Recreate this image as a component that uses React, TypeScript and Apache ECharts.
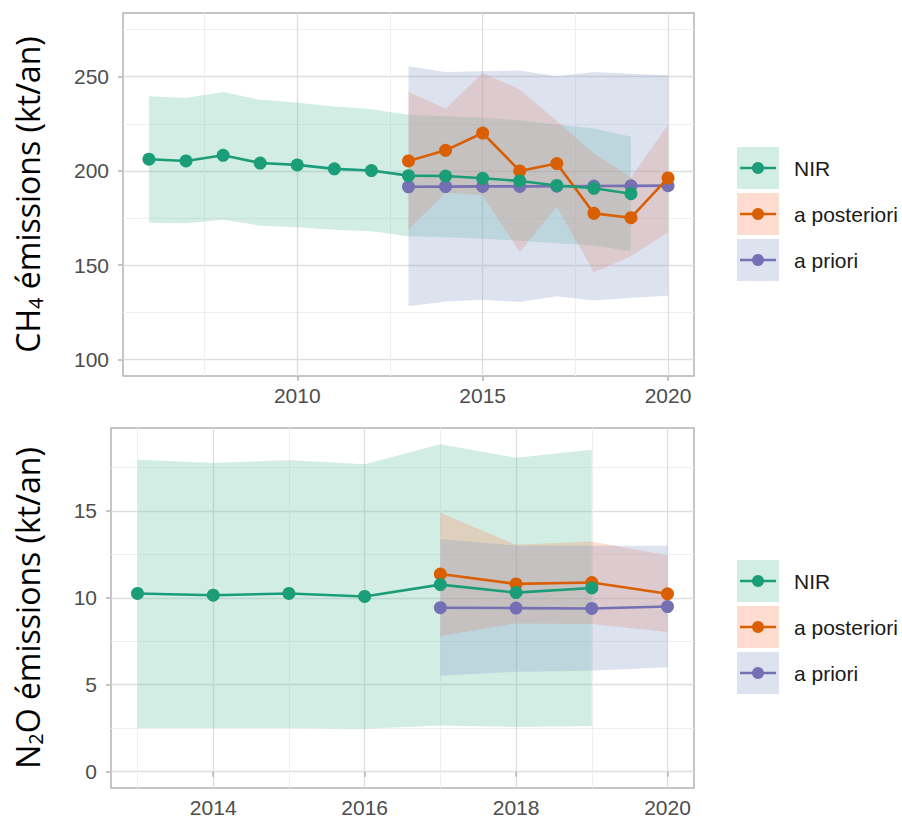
import React, { useEffect, useRef } from "react";
import * as echarts from "echarts";

// ---------- data ----------
const seriesNames = ["NIR", "a posteriori", "a priori"];
const lineColors = ["#1B9E77", "#D95F02", "#7570B3"];
const bandColors = ["#66C2A5", "#FC8D62", "#8DA0CB"];

// CH4
const ch4NirYears = [2006, 2007, 2008, 2009, 2010, 2011, 2012, 2013, 2014, 2015, 2016, 2017, 2018, 2019];
const ch4NirValue = [206.2, 205.3, 208.3, 204.2, 203.2, 201.1, 200.2, 197.5, 197.3, 196.1, 194.7, 192.3, 190.8, 187.9];
const ch4NirHigh = [239.6, 238.7, 241.9, 237.7, 236.2, 234.2, 232.7, 229.8, 229.0, 228.2, 226.9, 224.6, 222.5, 218.1];
const ch4NirLow = [172.5, 172.2, 174.1, 171.0, 170.1, 168.8, 168.0, 165.3, 164.8, 164.1, 163.0, 161.6, 160.4, 157.4];

const ch4InvYears = [2013, 2014, 2015, 2016, 2017, 2018, 2019, 2020];
const ch4PostValue = [205.3, 210.9, 220.1, 200.0, 203.9, 177.5, 175.2, 196.3];
const ch4PostHigh = [241.9, 233.1, 251.8, 243.3, 226.4, 209.2, 196.5, 224.5];
const ch4PostLow = [169.0, 188.6, 187.1, 156.9, 181.2, 146.3, 154.8, 167.4];
const ch4PriorValue = [191.6, 191.7, 191.8, 191.8, 191.9, 192.0, 192.1, 192.2];
const ch4PriorHigh = [255.5, 252.5, 252.8, 253.2, 250.2, 252.5, 251.6, 250.7];
const ch4PriorLow = [128.2, 130.8, 131.7, 130.5, 133.6, 131.3, 132.7, 133.8];

// N2O
const n2oNirYears = [2013, 2014, 2015, 2016, 2017, 2018, 2019];
const n2oNirValue = [10.25, 10.15, 10.25, 10.08, 10.76, 10.3, 10.57];
const n2oNirHigh = [17.95, 17.76, 17.91, 17.68, 18.83, 18.06, 18.52];
const n2oNirLow = [2.51, 2.51, 2.51, 2.47, 2.66, 2.57, 2.62];

const n2oInvYears = [2017, 2018, 2019, 2020];
const n2oPostValue = [11.37, 10.8, 10.88, 10.23];
const n2oPostHigh = [14.9, 13.05, 13.24, 12.44];
const n2oPostLow = [7.81, 8.53, 8.49, 8.04];
const n2oPriorValue = [9.43, 9.41, 9.39, 9.5];
const n2oPriorHigh = [13.37, 13.01, 12.99, 12.99];
const n2oPriorLow = [5.52, 5.75, 5.81, 6.0];

// axes
const ch4YTicks = [100, 150, 200, 250];
const ch4XTicks = [2010, 2015, 2020];
const n2oYTicks = [0, 5, 10, 15];
const n2oXTicks = [2014, 2016, 2018, 2020];

const tickFont = "'Liberation Sans', Arial, Helvetica, sans-serif";
const titleFont = "'Open Sans', 'Noto Sans', sans-serif";

function zip3(xs: number[], a: number[], b: number[]) {
  return xs.map((x, i) => [x, a[i], b[i]]);
}
function zip2(xs: number[], a: number[]) {
  return xs.map((x, i) => [x, a[i]]);
}

function bandSeries(idx: number, gridIdx: number, xs: number[], lo: number[], hi: number[], z: number) {
  const rows = zip3(xs, lo, hi);
  return {
    type: "custom",
    xAxisIndex: gridIdx,
    yAxisIndex: gridIdx,
    data: rows,
    encode: { x: 0, y: [1, 2] },
    silent: true,
    z,
    renderItem: (params: any, api: any) => {
      if (params.dataIndex !== 0) return null;
      const top = rows.map((r) => api.coord([r[0], r[2]]));
      const bottom = rows.map((r) => api.coord([r[0], r[1]])).reverse();
      return {
        type: "polygon",
        shape: { points: top.concat(bottom) },
        style: { fill: bandColors[idx], opacity: 0.3 },
      };
    },
  };
}

function lineSeries(idx: number, gridIdx: number, xs: number[], v: number[], z: number) {
  return {
    type: "line",
    name: seriesNames[idx],
    xAxisIndex: gridIdx,
    yAxisIndex: gridIdx,
    data: zip2(xs, v),
    symbol: "circle",
    symbolSize: 13,
    showSymbol: true,
    z,
    lineStyle: { color: lineColors[idx], width: 2.6 },
    itemStyle: { color: lineColors[idx] },
    silent: true,
  };
}

function xAxis(gridIndex: number, min: number, max: number, splitNumber: number, ticks: number[]) {
  return {
    type: "value",
    gridIndex,
    min,
    max,
    splitNumber,
    axisLine: { show: false },
    axisTick: { show: true, length: 5, customValues: ticks, lineStyle: { color: "#B3B3B3", width: 1.5 } },
    axisLabel: {
      customValues: ticks,
      color: "#4D4D4D",
      fontSize: 21,
      fontFamily: tickFont,
      margin: 9,
      formatter: (v: number) => String(v),
    },
    splitLine: { show: true, lineStyle: { color: "#DEDEDE", width: 1.3 } },
    minorTick: { show: false, splitNumber: 2 },
    minorSplitLine: { show: true, lineStyle: { color: "#EFEFEF", width: 1 } },
  };
}

function yAxis(gridIndex: number, min: number, max: number, splitNumber: number, ticks: number[], name: string, nameGap: number) {
  return {
    type: "value",
    gridIndex,
    min,
    max,
    splitNumber,
    name,
    nameLocation: "middle",
    nameGap,
    nameRotate: 90,
    nameTextStyle: {
      fontFamily: titleFont,
      fontSize: 32,
      color: "#000000",
      rich: {
        n: { fontFamily: titleFont, fontSize: 32, lineHeight: 32, verticalAlign: "top", color: "#000000" },
        s: { fontFamily: titleFont, fontSize: 20, lineHeight: 20, padding: [14, 0, 0, 0], verticalAlign: "top", color: "#000000" },
      },
    },
    axisLine: { show: false },
    axisTick: { show: true, length: 5, customValues: ticks, lineStyle: { color: "#B3B3B3", width: 1.5 } },
    axisLabel: {
      customValues: ticks,
      color: "#4D4D4D",
      fontSize: 21,
      fontFamily: tickFont,
      margin: 14,
      formatter: (v: number) => String(v),
    },
    splitLine: { show: true, lineStyle: { color: "#DEDEDE", width: 1.3 } },
    minorTick: { show: false, splitNumber: 2 },
    minorSplitLine: { show: true, lineStyle: { color: "#EFEFEF", width: 1 } },
  };
}

function legendGraphic(keyTop: number) {
  const items: any[] = [];
  seriesNames.forEach((nm, i) => {
    const y = keyTop + i * 46;
    const cy = y + 21;
    items.push({ type: "rect", shape: { x: 737, y, width: 42, height: 42 }, style: { fill: bandColors[i], opacity: 0.3 } });
    items.push({ type: "line", shape: { x1: 740, y1: cy, x2: 776, y2: cy }, style: { stroke: lineColors[i], lineWidth: 2.6 } });
    items.push({ type: "circle", shape: { cx: 758, cy, r: 6 }, style: { fill: lineColors[i] } });
    items.push({
      type: "text",
      x: 794,
      y: cy,
      style: { text: nm, fontSize: 21, fontFamily: tickFont, fill: "#1A1A1A", verticalAlign: "middle", align: "left" },
    });
  });
  return items;
}

export default function App() {
  const ref = useRef<HTMLDivElement>(null);
  useEffect(() => {
    if (!ref.current) return;
    const chart = echarts.init(ref.current, null, { renderer: "svg" });
    const option: any = {
      animation: false,
      backgroundColor: "#FFFFFF",
      grid: [
        { left: 123, top: 13, width: 571, height: 363, show: true, borderColor: "#B3B3B3", borderWidth: 1.5, backgroundColor: "transparent" },
        { left: 111, top: 428, width: 583, height: 361, show: true, borderColor: "#B3B3B3", borderWidth: 1.5, backgroundColor: "transparent" },
      ],
      xAxis: [xAxis(0, 2005.3, 2020.7, 3, ch4XTicks), xAxis(1, 2012.65, 2020.35, 4, n2oXTicks)],
      yAxis: [
        yAxis(0, 91.25, 283.75, 4, ch4YTicks, "{n|CH}{s|4}{n| émissions (kt/an)}", 80),
        yAxis(1, -0.94, 19.77, 4, n2oYTicks, "{n|N}{s|2}{n|O émissions (kt/an)}", 68),
      ],
      series: [
        bandSeries(0, 0, ch4NirYears, ch4NirLow, ch4NirHigh, 1),
        bandSeries(1, 0, ch4InvYears, ch4PostLow, ch4PostHigh, 1),
        bandSeries(2, 0, ch4InvYears, ch4PriorLow, ch4PriorHigh, 1),
        lineSeries(2, 0, ch4InvYears, ch4PriorValue, 3),
        lineSeries(1, 0, ch4InvYears, ch4PostValue, 4),
        lineSeries(0, 0, ch4NirYears, ch4NirValue, 5),
        bandSeries(0, 1, n2oNirYears, n2oNirLow, n2oNirHigh, 1),
        bandSeries(1, 1, n2oInvYears, n2oPostLow, n2oPostHigh, 1),
        bandSeries(2, 1, n2oInvYears, n2oPriorLow, n2oPriorHigh, 1),
        lineSeries(2, 1, n2oInvYears, n2oPriorValue, 3),
        lineSeries(1, 1, n2oInvYears, n2oPostValue, 4),
        lineSeries(0, 1, n2oNirYears, n2oNirValue, 5),
      ],
      graphic: [...legendGraphic(147), ...legendGraphic(560)],
    };
    chart.setOption(option);
    return () => chart.dispose();
  }, []);
  return <div ref={ref} style={{ position: "fixed", left: 0, top: 0, width: 902, height: 818 }} />;
}
